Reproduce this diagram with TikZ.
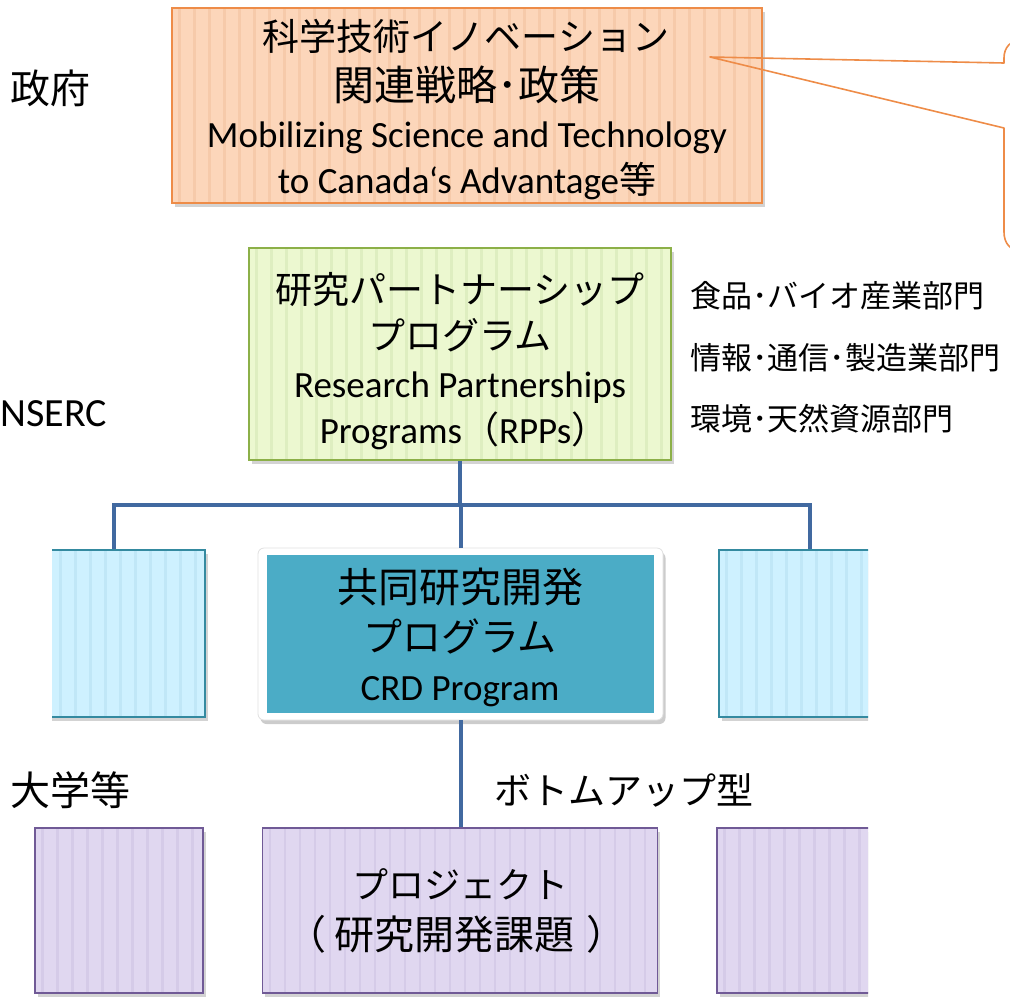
\documentclass[tikz,border=0pt]{standalone}
\usepackage{fontspec}
\setmainfont{Carlito}
\newfontfamily\jp{Noto Sans CJK JP}
\usetikzlibrary{shadows}
\definecolor{orfill}{RGB}{252,214,186}
\definecolor{orline}{RGB}{238,140,72}
\definecolor{orstripe}{RGB}{246,202,170}
\definecolor{grfill}{RGB}{236,248,208}
\definecolor{grline}{RGB}{140,176,72}
\definecolor{grstripe}{RGB}{222,238,192}
\definecolor{blfill}{RGB}{206,241,255}
\definecolor{blline}{RGB}{52,138,160}
\definecolor{blstripe}{RGB}{192,231,247}
\definecolor{crdfill}{RGB}{75,172,198}
\definecolor{pufill}{RGB}{224,215,240}
\definecolor{puline}{RGB}{112,90,150}
\definecolor{pustripe}{RGB}{213,203,232}
\definecolor{connc}{RGB}{65,105,160}
\tikzset{
  stripes/.style={path picture={
    \foreach \k in {0,...,45}{
      \fill[#1] ([xshift=\k*15pt+6pt]path picture bounding box.south west) rectangle ([xshift=\k*15pt+8.5pt]path picture bounding box.north west);
    }}},
  box/.style={rectangle, line width=1.6pt, inner sep=0pt,
    drop shadow={opacity=0.35, shadow xshift=2.5pt, shadow yshift=-4pt}},
  txt/.style={inner sep=0pt, anchor=base},
  conn/.style={draw=connc, line width=4pt, line join=miter},
  big/.style={font=\fontsize{37}{44}\selectfont},
  bigjp/.style={font=\jp\fontsize{37}{44}\selectfont},
  sidejp/.style={font=\jp\fontsize{31}{36}\selectfont},
}
\begin{document}
\begin{tikzpicture}[x=1pt, y=-1pt]
\useasboundingbox (0,0) rectangle (1010,997);
\clip (0,0) rectangle (1010,997);

% government box
\node[box, draw=orline, fill=orfill, stripes=orstripe, minimum width=590pt, minimum height=195pt] (gov) at (467,105.5) {};
% callout
\coordinate (tip) at (710,57);
\draw[orline, line width=1.6pt, line join=round]
  (1040,40) -- (1022,40) .. controls (1010,40) and (1004,48) .. (1004,58)
  -- (1004,63) -- (tip) -- (1004,128) -- (1004,232)
  .. controls (1004,243) and (1010,251) .. (1022,251) -- (1040,251);

% RPP box
\node[box, draw=grline, fill=grfill, stripes=grstripe, minimum width=422pt, minimum height=212pt] (rpp) at (460,354) {};

% side blue boxes (clipped)
\begin{scope}
\clip (52,540) rectangle (300,740);
\node[box, draw=blline, fill=blfill, stripes=blstripe, minimum width=182pt, minimum height=167pt] (lb) at (114,633.5) {};
\end{scope}
\begin{scope}
\clip (700,540) rectangle (868,740);
\node[box, draw=blline, fill=blfill, stripes=blstripe, minimum width=182pt, minimum height=167pt] (rb) at (810,633.5) {};
\end{scope}

% CRD box: white frame with inner teal panel
\node[rectangle, draw=black!12, line width=0.8pt, fill=white, rounded corners=6pt, inner sep=0pt,
  minimum width=405pt, minimum height=172pt,
  drop shadow={opacity=0.4, shadow xshift=2.5pt, shadow yshift=-4pt}] (crd) at (460.5,634) {};
\fill[crdfill] ([shift={(9pt,7pt)}]crd.south west) rectangle ([shift={(-9pt,-7pt)}]crd.north east);

% purple boxes
\node[box, draw=puline, fill=pufill, stripes=pustripe, minimum width=168pt, minimum height=165pt] (lp) at (119,910.5) {};
\node[box, draw=puline, fill=pufill, stripes=pustripe, minimum width=395pt, minimum height=165pt] (proj) at (460,910.5) {};
\begin{scope}
\clip (700,800) rectangle (868,997);
\node[box, draw=puline, fill=pufill, stripes=pustripe, minimum width=168pt, minimum height=165pt] (rp) at (801,910.5) {};
\end{scope}

% connectors
\path (rpp.south) ++(0,44) coordinate (j);
\draw[conn] (rpp.south) -- (j);
\draw[conn] (lb.north) |- (j) -| (rb.north);
\draw[conn] (j) -- (j -| crd.north) -- (crd.north);
\draw[conn] (crd.south) -- (crd.south |- proj.north);

% texts in government box
\node[txt, bigjp] (g1) at (466,50) {科学技術イノベーション};
\node[txt, font=\jp\fontsize{41}{48}\selectfont] (g2) at (467,100) {関連戦略･政策};
\node[txt, big] (g3) at (467,147) {Mobilizing Science and Technology};
\node[txt, big] (g4) at (467,193) {to Canada‘s Advantage{\jp 等}};

% texts in RPP box
\node[txt, bigjp] (r1) at (460,303) {研究パートナーシップ};
\node[txt, bigjp] (r2) at (460,349) {プログラム};
\node[txt, big] (r3) at (460,397) {Research Partnerships};
\node[txt, big] (r4) at (464,443) {Programs{\jp （}RPPs{\jp ）}};

% texts in CRD box
\node[txt, font=\jp\fontsize{41}{48}\selectfont] (c1) at (460,602) {共同研究開発};
\node[txt, font=\jp\fontsize{39}{46}\selectfont] (c2) at (460,651) {プログラム};
\node[txt, big] (c3) at (460,700) {CRD Program};

% texts in project box
\node[txt, font=\jp\fontsize{36}{44}\selectfont] (p1) at (460,898) {プロジェクト};
\node[txt, font=\jp\fontsize{40}{46}\selectfont] (p2) at (456,949) {（\kern8pt 研究開発課題\kern12pt ）};

% side labels
\node[txt, anchor=base west, font=\jp\fontsize{40}{46}\selectfont] (lgov) at (10,103) {政府};
\node[txt, anchor=base east, font=\fontsize{40}{46}\selectfont] (lnserc) at (107,426) {NSERC};
\node[txt, anchor=base west, font=\jp\fontsize{40}{46}\selectfont] (luni) at (10,805) {大学等};
\node[txt, anchor=base west, bigjp] (lbu) at (494,804) {ボトムアップ型};
\node[txt, anchor=base west, sidejp] (s1) at (690,307) {食品･バイオ産業部門};
\node[txt, anchor=base west, sidejp] (s2) at (690,369) {情報･通信･製造業部門};
\node[txt, anchor=base west, sidejp] (s3) at (690,430) {環境･天然資源部門};
\end{tikzpicture}
\end{document}
